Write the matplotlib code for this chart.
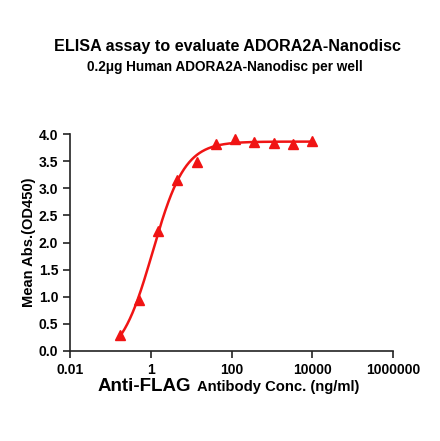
import numpy as np
import matplotlib
matplotlib.use("Agg")
import matplotlib.pyplot as plt
from matplotlib.ticker import FixedLocator, FixedFormatter, NullLocator

plt.rcParams['font.family'] = ['Liberation Sans', 'DejaVu Sans']
plt.rcParams['font.weight'] = 'bold'

## dados
conc = [0.169, 0.508, 1.52, 4.57, 13.7, 41.2, 123, 370, 1111, 3333, 10000]
od450 = [0.30, 0.94, 2.21, 3.15, 3.48, 3.81, 3.91, 3.86, 3.84, 3.81, 3.87]
xticks = [0.01, 1, 100, 10000, 1000000]
xtick_labels = ["0.01", "1", "100", "10000", "1000000"]
yticks = [0.0, 0.5, 1.0, 1.5, 2.0, 2.5, 3.0, 3.5, 4.0]

titulo = "ELISA assay to evaluate ADORA2A-Nanodisc"
subtitulo = "0.2\u03bcg Human ADORA2A-Nanodisc per well"

cor = '#f01414'


def four_pl(x, bottom, top, ec50, hill):
    return bottom + (top - bottom) / (1 + (ec50 / x) ** hill)


## ajuste 4PL simples por busca em grade
x = np.array(conc)
y = np.array(od450)
melhor = None
for ec50 in np.linspace(0.6, 2.5, 60):
    for hill in np.linspace(0.8, 2.5, 60):
        for top in np.linspace(3.7, 4.0, 16):
            for bottom in np.linspace(-0.2, 0.2, 9):
                r = np.sum((four_pl(x, bottom, top, ec50, hill) - y) ** 2)
                if melhor is None or r < melhor[0]:
                    melhor = (r, bottom, top, ec50, hill)
_, b, t, e, h = melhor

xs = np.logspace(np.log10(conc[0]), np.log10(conc[-1]), 300)

fig = plt.figure(figsize=(4.4, 4.41), dpi=100)
ax = fig.add_axes([70 / 440, 1 - 351 / 441, 323 / 440, 217 / 441])

ax.plot(xs, four_pl(xs, b, t, e, h), color=cor, lw=1.8, zorder=2)
ax.plot(conc, od450, linestyle='none', marker='^', ms=7, color=cor,
        mec=cor, zorder=3, clip_on=False)

ax.set_xscale('log')
ax.set_xlim(0.01, 1000000)
ax.set_ylim(0, 4.0)
ax.xaxis.set_major_locator(FixedLocator(xticks))
ax.xaxis.set_major_formatter(FixedFormatter(xtick_labels))
ax.xaxis.set_minor_locator(NullLocator())
ax.set_yticks(yticks)
ax.set_yticklabels(["%.1f" % v for v in yticks])

for s in ['top', 'right']:
    ax.spines[s].set_visible(False)
for s in ['left', 'bottom']:
    ax.spines[s].set_linewidth(1.2)
    ax.spines[s].set_color('#222222')
ax.tick_params(axis='both', direction='out', length=5, width=1.2,
               labelsize=10, color='#222222')
ax.tick_params(axis='x', pad=4)

ax.set_ylabel("Mean Abs.(OD450)", fontsize=10.5, fontweight='bold', labelpad=2)

fig.text(0.516, 1 - 46 / 441, titulo, ha='center', va='center',
         fontsize=11.6, fontweight='bold')
fig.text(0.511, 1 - 67 / 441, subtitulo, ha='center', va='center',
         fontsize=9.8, fontweight='bold')

fig.text(0.434, 1 - 391 / 441, "Anti-FLAG", ha='right', va='baseline',
         fontsize=13.5, fontweight='bold')
fig.text(0.447, 1 - 391 / 441, "Antibody Conc. (ng/ml)", ha='left',
         va='baseline', fontsize=10.6, fontweight='bold')

fig.savefig("out.png", dpi=100)
